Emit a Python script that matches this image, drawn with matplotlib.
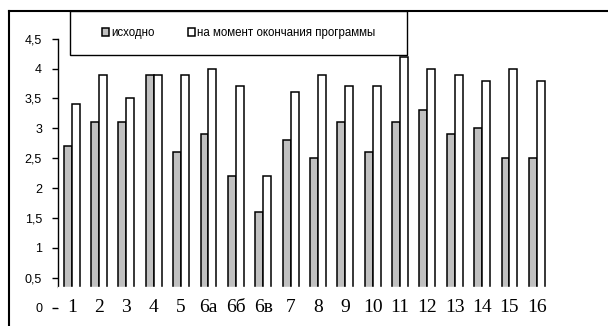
import numpy as np
import matplotlib
matplotlib.use("Agg")
import matplotlib.pyplot as plt
from matplotlib.lines import Line2D
from matplotlib.patches import Rectangle

# данные
kategorii = ["1", "2", "3", "4", "5", "6а", "6б", "6в", "7", "8",
             "9", "10", "11", "12", "13", "14", "15", "16"]
ishodno = [2.7, 3.1, 3.1, 3.9, 2.6, 2.9, 2.2, 1.6, 2.8, 2.5,
           3.1, 2.6, 3.1, 3.3, 2.9, 3.0, 2.5, 2.5]
konec = [3.4, 3.9, 3.5, 3.9, 3.9, 4.0, 3.7, 2.2, 3.6, 3.9,
         3.7, 3.7, 4.2, 4.0, 3.9, 3.8, 4.0, 3.8]
yticks = [0, 0.5, 1, 1.5, 2, 2.5, 3, 3.5, 4, 4.5]
legenda = ["исходно", "на момент окончания программы"]

W, H = 608, 326
fig = plt.figure(figsize=(W / 100, H / 100), dpi=100)
ax = fig.add_axes([58 / W, 18.5 / H, 492.5 / W, 268.8 / H])

x = np.arange(len(kategorii))
w = 0.29
b1 = ax.bar(x - w / 2, ishodno, w, color="#c0c0c0", edgecolor="black", linewidth=1.1, zorder=2)
b2 = ax.bar(x + w / 2, konec, w, color="white", edgecolor="black", linewidth=1.1, zorder=2)

ax.set_xlim(-0.5, len(kategorii) - 0.5)
ax.set_ylim(0, 4.5)

# полоса внизу, где стоят подписи категорий
ax.axhspan(0, 0.34, color="white", zorder=3)
for xi, lab in zip(x, kategorii):
    ax.text(xi, 0.0, lab, ha="center", va="center", fontsize=14,
            family="Liberation Serif", zorder=4)

for s in ["top", "right", "bottom"]:
    ax.spines[s].set_visible(False)
ax.spines["left"].set_bounds(0.34, 4.5)
ax.spines["left"].set_linewidth(1.0)
ax.set_xticks([])
ax.set_yticks(yticks)
ax.set_yticklabels([("%g" % v).replace(".", ",") for v in yticks],
                   fontsize=9, family="Liberation Sans")
ax.tick_params(axis="y", length=4.5, width=1, pad=7)

# рамка легенды
lx0, ly0, lx1, ly1 = 70, 11, 407, 55
fig.add_artist(Rectangle((lx0 / W, 1 - ly1 / H), (lx1 - lx0) / W, (ly1 - ly0) / H,
                         facecolor="white", edgecolor="black", lw=1.0, zorder=5))
lg = fig.legend([b1, b2], legenda, loc="center",
                bbox_to_anchor=((lx0 + lx1) / 2 / W, 1 - (ly0 + ly1) / 2 / H),
                ncol=2, prop={"family": "Liberation Sans", "size": 8.3},
                handlelength=0.6, handleheight=0.6, handletextpad=0.2,
                columnspacing=2.9, frameon=False)
lg.set_zorder(6)

# рамка вокруг диаграммы
fig.add_artist(Line2D([9 / W, 9 / W], [0, 1 - 11 / H], color="black", lw=1.5))
fig.add_artist(Line2D([9 / W, 1], [1 - 11 / H, 1 - 11 / H], color="black", lw=1.5))

fig.savefig("out.png", dpi=100)
